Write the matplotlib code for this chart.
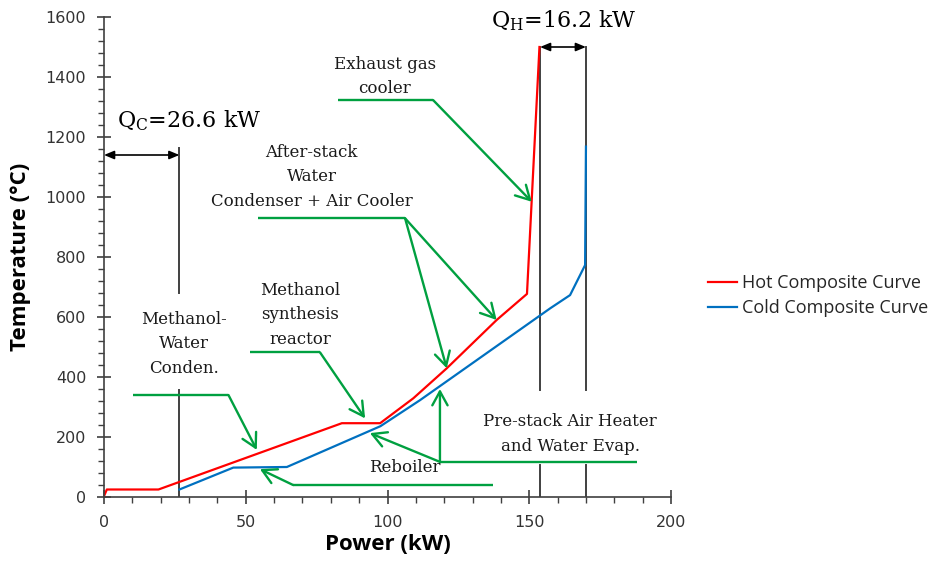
import matplotlib
matplotlib.use("Agg")
import matplotlib.pyplot as plt
from matplotlib.patches import FancyArrowPatch
from matplotlib.ticker import MultipleLocator

# Composite curve data (power in kW, temperature in °C)
hot_power = [0, 1.0, 19.2, 83.9, 97.4, 109.1, 120.9, 138.5, 149.2, 153.6]
hot_temp = [3, 25, 25, 246, 246, 329, 429, 590, 677, 1500]

cold_power = [26.6, 45.6, 64.5, 97.5, 111.5, 157.4, 164.4, 169.7, 170.0]
cold_temp = [25, 98, 100, 236, 323, 629, 673, 773, 1168]

# Utility targets
q_c = 26.6
q_h = 16.2
q_h_start = 153.8

x_ticks = [0, 50, 100, 150, 200]
y_ticks = [0, 200, 400, 600, 800, 1000, 1200, 1400, 1600]

RED = "#FF0000"
BLUE = "#0070C0"
GREEN = "#00A040"
DARK = "#404040"
SERIF = "DejaVu Serif"

plt.rcParams["mathtext.fontset"] = "dejavuserif"

fig = plt.figure(figsize=(9.33, 5.75), dpi=100)
ax = fig.add_axes([104 / 933, 78 / 575, 567 / 933, 480 / 575])

ax.plot(hot_power, hot_temp, color=RED, lw=1.6, label="Hot Composite Curve", zorder=3)
ax.plot(cold_power, cold_temp, color=BLUE, lw=1.6, label="Cold Composite Curve", zorder=3)

ax.set_xlim(0, 200)
ax.set_ylim(0, 1600)
ax.set_xticks(x_ticks)
ax.set_yticks(y_ticks)
ax.xaxis.set_minor_locator(MultipleLocator(10))
ax.yaxis.set_minor_locator(MultipleLocator(40))
for s in ("top", "right"):
    ax.spines[s].set_visible(False)
for s in ("left", "bottom"):
    ax.spines[s].set_color(DARK)
    ax.spines[s].set_linewidth(1.2)
    ax.spines[s].set_zorder(4)
ax.tick_params(which="major", direction="inout", length=9.5, width=1.2, color=DARK,
               labelsize=11.5, labelcolor="#333333", pad=8)
ax.tick_params(which="minor", direction="out", length=4, width=1.0, color=DARK)

ax.set_xlabel("Power (kW)", fontsize=16, fontweight="bold", family="Open Sans", color="black")
ax.set_ylabel("Temperature (°C)", fontsize=16, fontweight="bold", family="Open Sans", color="black")
ax.xaxis.set_label_coords(0.5, -0.078)
ax.yaxis.set_label_coords(-0.128, 0.5)

# Pinch-analysis utility markers
vline_kw = dict(color=DARK, lw=1.4, zorder=2)
ax.plot([q_c, q_c], [1165, 680], **vline_kw)
ax.plot([q_c, q_c], [357, 0], **vline_kw)
q_h_end = q_h_start + q_h
for xv in (q_h_start, q_h_end):
    ax.plot([xv, xv], [1500, 357], **vline_kw)
    ax.plot([xv, xv], [107, 0], **vline_kw)


def dbl_arrow(x0, x1, y):
    ax.add_patch(FancyArrowPatch((x0, y), (x1, y), arrowstyle="<|-|>,head_length=6,head_width=2.5",
                                 mutation_scale=1, color="black", lw=1.2, shrinkA=0, shrinkB=0,
                                 zorder=5, clip_on=False))


dbl_arrow(0, q_c, 1140)
dbl_arrow(q_h_start, q_h_end, 1500)

ax.text(30.0, 1253, r"Q$_{\mathrm{C}}$=%.1f kW" % q_c, family=SERIF, fontsize=16,
        ha="center", va="center")
ax.text(162.1, 1588, r"Q$_{\mathrm{H}}$=%.1f kW" % q_h, family=SERIF, fontsize=16,
        ha="center", va="center")

# Green callouts: leader line + open arrow heads
def leader(points, tips):
    xs, ys = zip(*points)
    ax.plot(xs, ys, color=GREEN, lw=1.7, solid_capstyle="butt", zorder=4)
    for tip in tips:
        ax.add_patch(FancyArrowPatch(points[-1], tip,
                                     arrowstyle="->,head_length=10,head_width=5.5",
                                     mutation_scale=1, color=GREEN, lw=1.7,
                                     shrinkA=0, shrinkB=0, zorder=4))


leader([(10.3, 340), (43.9, 340)], [(53.9, 157)])
leader([(51.5, 482), (76.2, 482)], [(92.1, 262)])
leader([(137.2, 40), (66.7, 40)], [(55.0, 93)])
leader([(187.9, 117), (118.5, 117)], [(118.5, 360), (93.8, 213)])
leader([(54.3, 929), (106.2, 929)], [(138.5, 590), (120.9, 429)])
leader([(82.6, 1323), (116.1, 1323)], [(150.9, 984)])

label_kw = dict(family=SERIF, fontsize=12, ha="center", va="center", linespacing=1.6,
                color="#1a1a1a")
ax.text(28.1, 510, "Methanol-\nWater\nConden.", **label_kw)
ax.text(69.2, 607, "Methanol\nsynthesis\nreactor", **label_kw)
ax.text(73.2, 1067, "After-stack\nWater\nCondenser + Air Cooler", **label_kw)
ax.text(99.1, 1402, "Exhaust gas\ncooler", **label_kw)
ax.text(106.2, 100, "Reboiler", **label_kw)
ax.text(164.4, 210, "Pre-stack Air Heater\nand Water Evap.", **label_kw)

leg = ax.legend(loc="upper left", bbox_to_anchor=(708 / 933, 1 - 274 / 575),
                bbox_transform=fig.transFigure, frameon=False, borderpad=0, borderaxespad=0,
                handlelength=1.6, handletextpad=0.3, labelspacing=0.4,
                prop={"family": "Open Sans", "size": 13})
for t in leg.get_texts():
    t.set_color("#262626")

fig.savefig("out.png", dpi=100)
